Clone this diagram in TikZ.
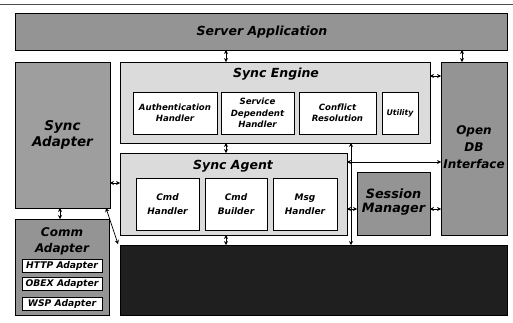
\documentclass[tikz,border=0pt]{standalone}
\usepackage{fontspec}
\setmainfont{DejaVu Sans}
\usetikzlibrary{arrows.meta,calc}
\begin{document}
\begin{tikzpicture}[x=1pt,y=-1pt,
  every node/.style={inner sep=0pt,outer sep=0pt,align=center,font=\bfseries\itshape},
  blk/.style={draw=black,line width=0.9pt,rectangle},
  midgray/.style={blk,fill=black!42},
  lightgray/.style={blk,fill=black!14},
  unit/.style={blk,fill=white,line width=0.8pt},
  small/.style={font=\fontsize{8.6}{11.5}\selectfont\bfseries\itshape},
  title/.style={font=\fontsize{12.5}{14}\selectfont\bfseries\itshape},
  adp/.style={unit,minimum width=80pt,minimum height=13pt,font=\fontsize{9.2}{10}\selectfont\bfseries\itshape},
  cmd/.style={unit,minimum height=52pt,font=\fontsize{9}{14}\selectfont\bfseries\itshape},
  tip/.tip={Stealth[length=4pt,width=4.2pt]},
  dbl/.style={tip-tip,line width=0.7pt}]
\useasboundingbox (0,0) rectangle (513,322);
\fill[white] (0,0) rectangle (513,322);
\draw[black!70,line width=0.6pt] (0,4) -- (513,4);

% top layer
\node[midgray,minimum width=492pt,minimum height=37pt] (server) at (261,31.5) {};
\node[font=\fontsize{12.5}{14}\selectfont\bfseries\itshape] at (262,32) {Server Application};

% left column
\node[midgray,fill=black!38,minimum width=95pt,minimum height=146pt] (adapter) at (62.5,135) {};
\node[font=\fontsize{13.5}{15.5}\selectfont\bfseries\itshape] at (adapter) {Sync\\Adapter};

\node[midgray,minimum width=94pt,minimum height=96pt] (comm) at (62,267) {};
\node[font=\fontsize{12}{16}\selectfont\bfseries\itshape] at (62,241) {Comm\\Adapter};
\node[adp] (http) at (62,265.5) {HTTP Adapter};
\node[adp] (obex) at (62,283.5) {OBEX Adapter};
\node[adp] (wsp) at (62,303.5) {WSP Adapter};

% sync engine
\node[lightgray,minimum width=310pt,minimum height=81pt] (engine) at (275,102.5) {};
\node[title] at (276,74) {Sync Engine};
\node[unit,small,minimum width=84pt,minimum height=42pt] (auth) at (175,113) {Authentication\\Handler};
\node[unit,small,minimum width=73pt,minimum height=42pt] (service) at (257.5,113) {Service\\Dependent\\Handler};
\node[unit,small,minimum width=77pt,minimum height=42pt] (conflict) at (337.5,113) {Conflict\\Resolution};
\node[unit,small,minimum width=36pt,minimum height=42pt,font=\fontsize{7.8}{11}\selectfont\bfseries\itshape] (utility) at (400,113) {Utility};

% right column
\node[midgray,minimum width=66pt,minimum height=173pt] (opendb) at (474,148.5) {};
\node[font=\fontsize{12}{17}\selectfont\bfseries\itshape] at (474,147) {Open\\DB\\Interface};

% sync agent
\node[lightgray,minimum width=227pt,minimum height=82pt] (agent) at (233.5,194) {};
\node[title] at (233,166) {Sync Agent};
\node[cmd,minimum width=63pt] (cmdh) at (167.5,204) {Cmd\\Handler};
\node[cmd,minimum width=62pt] (cmdb) at (236,204) {Cmd\\Builder};
\node[cmd,minimum width=64pt] (msgh) at (305,204) {Msg\\Handler};

\node[midgray,minimum width=73pt,minimum height=63pt] (session) at (393.5,203.5) {};
\node[font=\fontsize{12.8}{14.5}\selectfont\bfseries\itshape] at (393.5,202) {Session\\Manager};

% bottom dark block
\node[blk,fill=black!88,minimum width=387pt,minimum height=70pt] (dark) at (313.5,280) {};

% connector guide positions
\coordinate (xa) at (226,0);
\coordinate (xb) at (462,0);
\coordinate (xc) at (60,0);
\coordinate (xd) at (351,0);
\coordinate (ya) at (0,76);
\coordinate (yb) at (0,183);
\coordinate (yc) at (0,209);
\coordinate (yd) at (0,162);

% connectors
\draw[dbl] (server.south -| xa) -- (engine.north -| xa);
\draw[dbl] (server.south -| xb) -- (opendb.north -| xb);
\draw[dbl] (engine.east |- ya) -- (opendb.west |- ya);
\draw[dbl] (engine.south -| xa) -- (agent.north -| xa);
\draw[dbl] (adapter.east |- yb) -- (agent.west |- yb);
\draw[dbl] (agent.east |- yc) -- (session.west |- yc);
\draw[dbl] (session.east |- yc) -- (opendb.west |- yc);
\draw[dbl] (adapter.south -| xc) -- (comm.north -| xc);
\draw[dbl] (agent.south -| xa) -- (dark.north -| xa);
\draw[dbl] ($(adapter.south east)+(-4,0)$) -- ($(dark.north west)+(-2,-1)$);
\draw[dbl] (engine.south -| xd) -- (dark.north -| xd);
\draw[dbl] (agent.east |- yd) -- (opendb.west |- yd);
\end{tikzpicture}
\end{document}
